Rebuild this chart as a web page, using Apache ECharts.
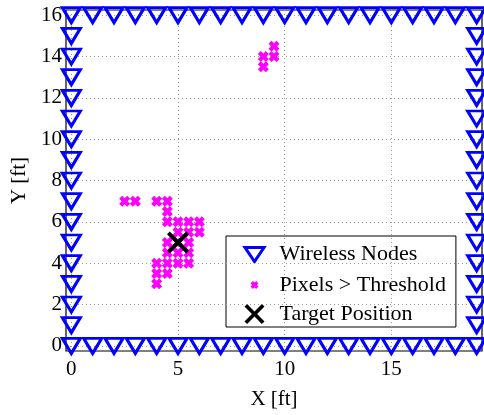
<!DOCTYPE html>
<html>
<head>
<meta charset="utf-8">
<script src="https://cdn.jsdelivr.net/npm/echarts@6/dist/echarts.min.js"></script>
<style>html,body{margin:0;padding:0;background:#fff;}#c{width:484px;height:415px;}</style>
</head>
<body>
<div id="c"></div>
<script>
// Wireless node positions [x, y] (perimeter of the room)
var nodes = [
  [0,0],[1,0],[2,0],[3,0],[4,0],[5,0],[6,0],[7,0],[8,0],[9,0],[10,0],[11,0],[12,0],[13,0],[14,0],[15,0],[16,0],[17,0],[18,0],[19,0],
  [0,16],[1,16],[2,16],[3,16],[4,16],[5,16],[6,16],[7,16],[8,16],[9,16],[10,16],[11,16],[12,16],[13,16],[14,16],[15,16],[16,16],[17,16],[18,16],[19,16],
  [0,1],[0,2],[0,3],[0,4],[0,5],[0,6],[0,7],[0,8],[0,9],[0,10],[0,11],[0,12],[0,13],[0,14],[0,15],
  [19,1],[19,2],[19,3],[19,4],[19,5],[19,6],[19,7],[19,8],[19,9],[19,10],[19,11],[19,12],[19,13],[19,14],[19,15]
];
// Pixels above threshold [x, y]
var pixels = [
  [2.5,7],[3,7],[4,7],[4.5,7],
  [4.5,6.5],
  [4.5,6],[5,6],[5.5,6],[6,6],
  [5,5.5],[5.5,5.5],[6,5.5],
  [4.5,5],[5,5],[5.5,5],
  [4.5,4.5],[5,4.5],[5.5,4.5],
  [4,4],[4.5,4],[5,4],[5.5,4],
  [4,3.5],[4.5,3.5],
  [4,3],
  [9,13.5],[9,14],[9.5,14],[9.5,14.5]
];
// Target position
var target = [[5,5]];
// Tick labels
var xTicks = [0,5,10,15];
var yTicks = [0,2,4,6,8,10,12,14,16];

var FONT = 'Liberation Serif';
var triPath = 'path://M0,0L18,0L9,15Z';
var magPath = 'path://M0,3L3,0L5.5,2.5L8,0L11,3L8.5,5.5L11,8L8,11L5.5,8.5L3,11L0,8L2.5,5.5Z';
var bigX = 'path://M0,2.8L2.8,0L11,8.2L19.2,0L22,2.8L13.8,11L22,19.2L19.2,22L11,13.8L2.8,22L0,19.2L8.2,11Z';

var legTri = 'path://M0,0M22,22M1.5,4L20.5,4L11,18Z';
var legMag = 'path://M0,0M22,22M7,9.4L9.4,7L11,8.6L12.6,7L15,9.4L13.4,11L15,12.6L12.6,15L11,13.4L9.4,15L7,12.6L8.6,11Z';
var legX = 'path://M0,0M22,22M1,3.6L3.6,1L11,8.4L18.4,1L21,3.6L13.6,11L21,18.4L18.4,21L11,13.6L3.6,21L1,18.4L8.4,11Z';

var gridLines = xTicks.map(function(v){return {xAxis:v};}).concat(yTicks.map(function(v){return {yAxis:v};}));

var chart = echarts.init(document.getElementById('c'), null, {renderer:'canvas'});
chart.setOption({
  animation: false,
  backgroundColor: '#fff',
  grid: {left: 66, right: 2, top: 10, bottom: 56, show: true, borderColor: '#000', borderWidth: 1.2, backgroundColor: 'transparent'},
  xAxis: {
    type: 'value', min: -0.25, max: 19.25,
    name: 'X [ft]', nameLocation: 'middle', nameGap: 38,
    nameTextStyle: {fontFamily: FONT, fontSize: 21, color: '#000'},
    axisLine: {show: false}, axisTick: {show: false}, splitLine: {show: false},
    axisLabel: {customValues: xTicks, fontFamily: FONT, fontSize: 21, color: '#000', margin: 8}
  },
  yAxis: {
    type: 'value', min: -0.25, max: 16.25,
    name: 'Y [ft]', nameLocation: 'middle', nameGap: 31,
    nameTextStyle: {fontFamily: FONT, fontSize: 21, color: '#000'},
    axisLine: {show: false}, axisTick: {show: false}, splitLine: {show: false},
    axisLabel: {customValues: yTicks, fontFamily: FONT, fontSize: 21, color: '#000', margin: 4}
  },
  legend: {
    orient: 'vertical', left: 226, top: 236,
    padding: [6, 10, 2, 16], itemGap: 7,
    itemWidth: 22, itemHeight: 22,
    backgroundColor: '#fff', borderColor: '#000', borderWidth: 1,
    selectedMode: false,
    textStyle: {fontFamily: FONT, fontSize: 22, color: '#000', padding: [0,0,0,9]},
    data: [
      {name: 'Wireless Nodes', icon: legTri, itemStyle: {color: 'rgba(0,0,0,0)', borderColor: '#0000ff', borderWidth: 3}},
      {name: 'Pixels > Threshold', icon: legMag, itemStyle: {color: '#ff00ff', borderWidth: 0}},
      {name: 'Target Position', icon: legX, itemStyle: {color: '#000', borderWidth: 0}}
    ]
  },
  series: [
    {
      type: 'scatter', name: 'grid', data: [], silent: true,
      markLine: {
        silent: true, symbol: 'none', label: {show: false}, animation: false,
        lineStyle: {color: '#999', type: [1, 3], width: 1},
        emphasis: {disabled: true},
        data: gridLines
      }
    },
    {
      type: 'scatter', name: 'Wireless Nodes', data: nodes,
      symbol: triPath, symbolSize: [18, 15],
      itemStyle: {color: 'rgba(0,0,0,0)', borderColor: '#0000ff', borderWidth: 3, opacity: 1},
      z: 5
    },
    {
      type: 'scatter', name: 'Pixels > Threshold', data: pixels,
      symbol: magPath, symbolSize: 11,
      itemStyle: {color: '#ff00ff', opacity: 1},
      z: 6
    },
    {
      type: 'scatter', name: 'Target Position', data: target,
      symbol: bigX, symbolSize: 22,
      itemStyle: {color: '#000', opacity: 1},
      z: 7
    }
  ]
});
</script>
</body>
</html>
